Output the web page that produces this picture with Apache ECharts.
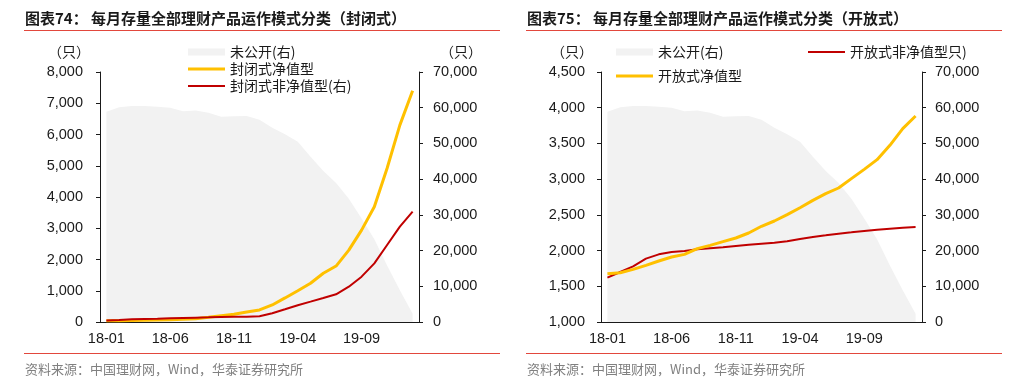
<!DOCTYPE html>
<html><head><meta charset="utf-8">
<script src="https://cdn.jsdelivr.net/npm/echarts@6/dist/echarts.min.js"></script>
<style>html,body{margin:0;padding:0;background:#fff}#c{width:1013px;height:391px}</style>
</head><body><div id="c"></div>
<script>
// ---- data ----
const categories = ['18-01','18-02','18-03','18-04','18-05','18-06','18-07','18-08','18-09','18-10','18-11','18-12',
  '19-01','19-02','19-03','19-04','19-05','19-06','19-07','19-08','19-09','19-10','19-11','19-12','20-01'];
const undisclosed = [58900,60100,60500,60500,60300,60000,59000,59200,58600,57500,57600,57700,56600,54400,52600,50500,46300,42300,38900,34500,29000,23200,15800,8900,2300];
const closedNav = [40,40,50,55,65,70,85,105,150,200,245,320,385,545,770,1000,1240,1560,1790,2300,2940,3690,4920,6300,7400];
const closedNonNav = [400,560,750,840,930,1030,1120,1210,1300,1400,1500,1500,1590,2430,3550,4700,5700,6720,7750,9890,12690,16420,21550,26690,30880];
const openNav = [1677,1690,1737,1793,1854,1910,1947,2027,2073,2125,2176,2246,2340,2414,2503,2600,2703,2797,2876,3007,3137,3273,3473,3707,3884];
const openNonNav = [1621,1700,1779,1887,1947,1980,1994,2017,2031,2045,2064,2083,2097,2111,2129,2162,2190,2213,2237,2255,2274,2293,2307,2321,2330];
const leftTicks = {min:0, max:8000, interval:1000};
const rightTicks = {min:0, max:70000, interval:10000};
const openLeftTicks = {min:1000, max:4500, interval:500};

// ---- style ----
const NUM = '"Liberation Sans", Arial, sans-serif';
const CJK = '"Noto Sans CJK SC", sans-serif';
const AX = '#1a1a1a';
const fmt = v => String(v).replace(/\B(?=(\d{3})+(?!\d))/g, ',');

function xAxis(g){
  return {type:'category', gridIndex:g, data:categories, boundaryGap:true,
    axisLine:{lineStyle:{color:AX,width:1}},
    axisTick:{interval:4, length:5, lineStyle:{color:AX}},
    axisLabel:{interval:4, margin:9, fontSize:14.5, color:AX, fontFamily:NUM},
    splitLine:{show:false}};
}
function yAxis(g, t, pos, margin){
  return {type:'value', gridIndex:g, position:pos, min:t.min, max:t.max, interval:t.interval,
    axisLine:{show:true, lineStyle:{color:AX}},
    axisTick:{show:true, length:4, lineStyle:{color:AX}},
    axisLabel:{margin:margin, fontSize:14.5, color:AX, fontFamily:NUM, formatter:fmt},
    splitLine:{show:false}};
}
function legend(name, left, top, w, h){
  return {left:left, top:top, padding:0, data:[name], icon:'rect', itemWidth:w, itemHeight:h, itemGap:0,
    textStyle:{fontFamily:CJK, fontSize:14, color:'#1a1a1a'}, selectedMode:false};
}
function text(str, x, y, opts){
  return {type:'text', left:x, top:y, style:Object.assign({text:str, fill:'#1a1a1a', font:'14px '+CJK}, opts||{})};
}
function hline(x1, x2, y){
  return {type:'line', shape:{x1:x1, y1:y, x2:x2, y2:y}, style:{stroke:'#e2473d', lineWidth:1}};
}

const chart = echarts.init(document.getElementById('c'));
chart.setOption({
  animation:false,
  backgroundColor:'#fff',
  grid:[{left:100, top:72, width:319, height:250},{left:601, top:72, width:321, height:250}],
  xAxis:[xAxis(0), xAxis(1)],
  yAxis:[yAxis(0,leftTicks,'left',17), yAxis(0,rightTicks,'right',14), yAxis(1,openLeftTicks,'left',16), yAxis(1,rightTicks,'right',13)],
  legend:[
    legend('未公开(右)',188,45,37,7),
    legend('封闭式净值型',188,62,37,3),
    legend('封闭式非净值型(右)',188,79,37,2),
    legend('未公开(右)',616,45,37,7),
    legend('开放式净值型',616,69,37,3),
    legend('开放式非净值型只)',808,45,37,2)
  ],
  series:[
    {name:'未公开(右)', type:'line', xAxisIndex:0, yAxisIndex:1, data:undisclosed, showSymbol:false, color:'#f2f2f2',
      lineStyle:{width:0}, areaStyle:{color:'#f2f2f2', opacity:1}, z:1},
    {name:'封闭式净值型', type:'line', xAxisIndex:0, yAxisIndex:0, data:closedNav, showSymbol:false, color:'#ffc000',
      lineStyle:{width:3, color:'#ffc000'}, z:3},
    {name:'封闭式非净值型(右)', type:'line', xAxisIndex:0, yAxisIndex:1, data:closedNonNav, showSymbol:false, color:'#c00000',
      lineStyle:{width:2, color:'#c00000'}, z:4},
    {name:'未公开(右)', type:'line', xAxisIndex:1, yAxisIndex:3, data:undisclosed, showSymbol:false, color:'#f2f2f2',
      lineStyle:{width:0}, areaStyle:{color:'#f2f2f2', opacity:1}, z:1},
    {name:'开放式净值型', type:'line', xAxisIndex:1, yAxisIndex:2, data:openNav, showSymbol:false, color:'#ffc000',
      lineStyle:{width:3, color:'#ffc000'}, z:4},
    {name:'开放式非净值型只)', type:'line', xAxisIndex:1, yAxisIndex:2, data:openNonNav, showSymbol:false, color:'#c00000',
      lineStyle:{width:2, color:'#c00000'}, z:3}
  ],
  graphic:[
    text('图表74： 每月存量全部理财产品运作模式分类（封闭式）', 25, 11, {font:'bold 15px '+CJK, fill:'#1a1a1a'}),
    text('图表75： 每月存量全部理财产品运作模式分类（开放式）', 527, 11, {font:'bold 15px '+CJK, fill:'#1a1a1a'}),
    hline(24,500,30.5), hline(526,1002,30.5),
    hline(24,500,353.5), hline(526,1002,353.5),
    text('（只）', 48, 45), text('（只）', 440, 45),
    text('（只）', 551, 45),
    text('资料来源：中国理财网，Wind，华泰证券研究所', 25, 363, {font:'13px '+CJK, fill:'#808080'}),
    text('资料来源：中国理财网，Wind，华泰证券研究所', 527, 363, {font:'13px '+CJK, fill:'#808080'})
  ]
});
</script></body></html>
